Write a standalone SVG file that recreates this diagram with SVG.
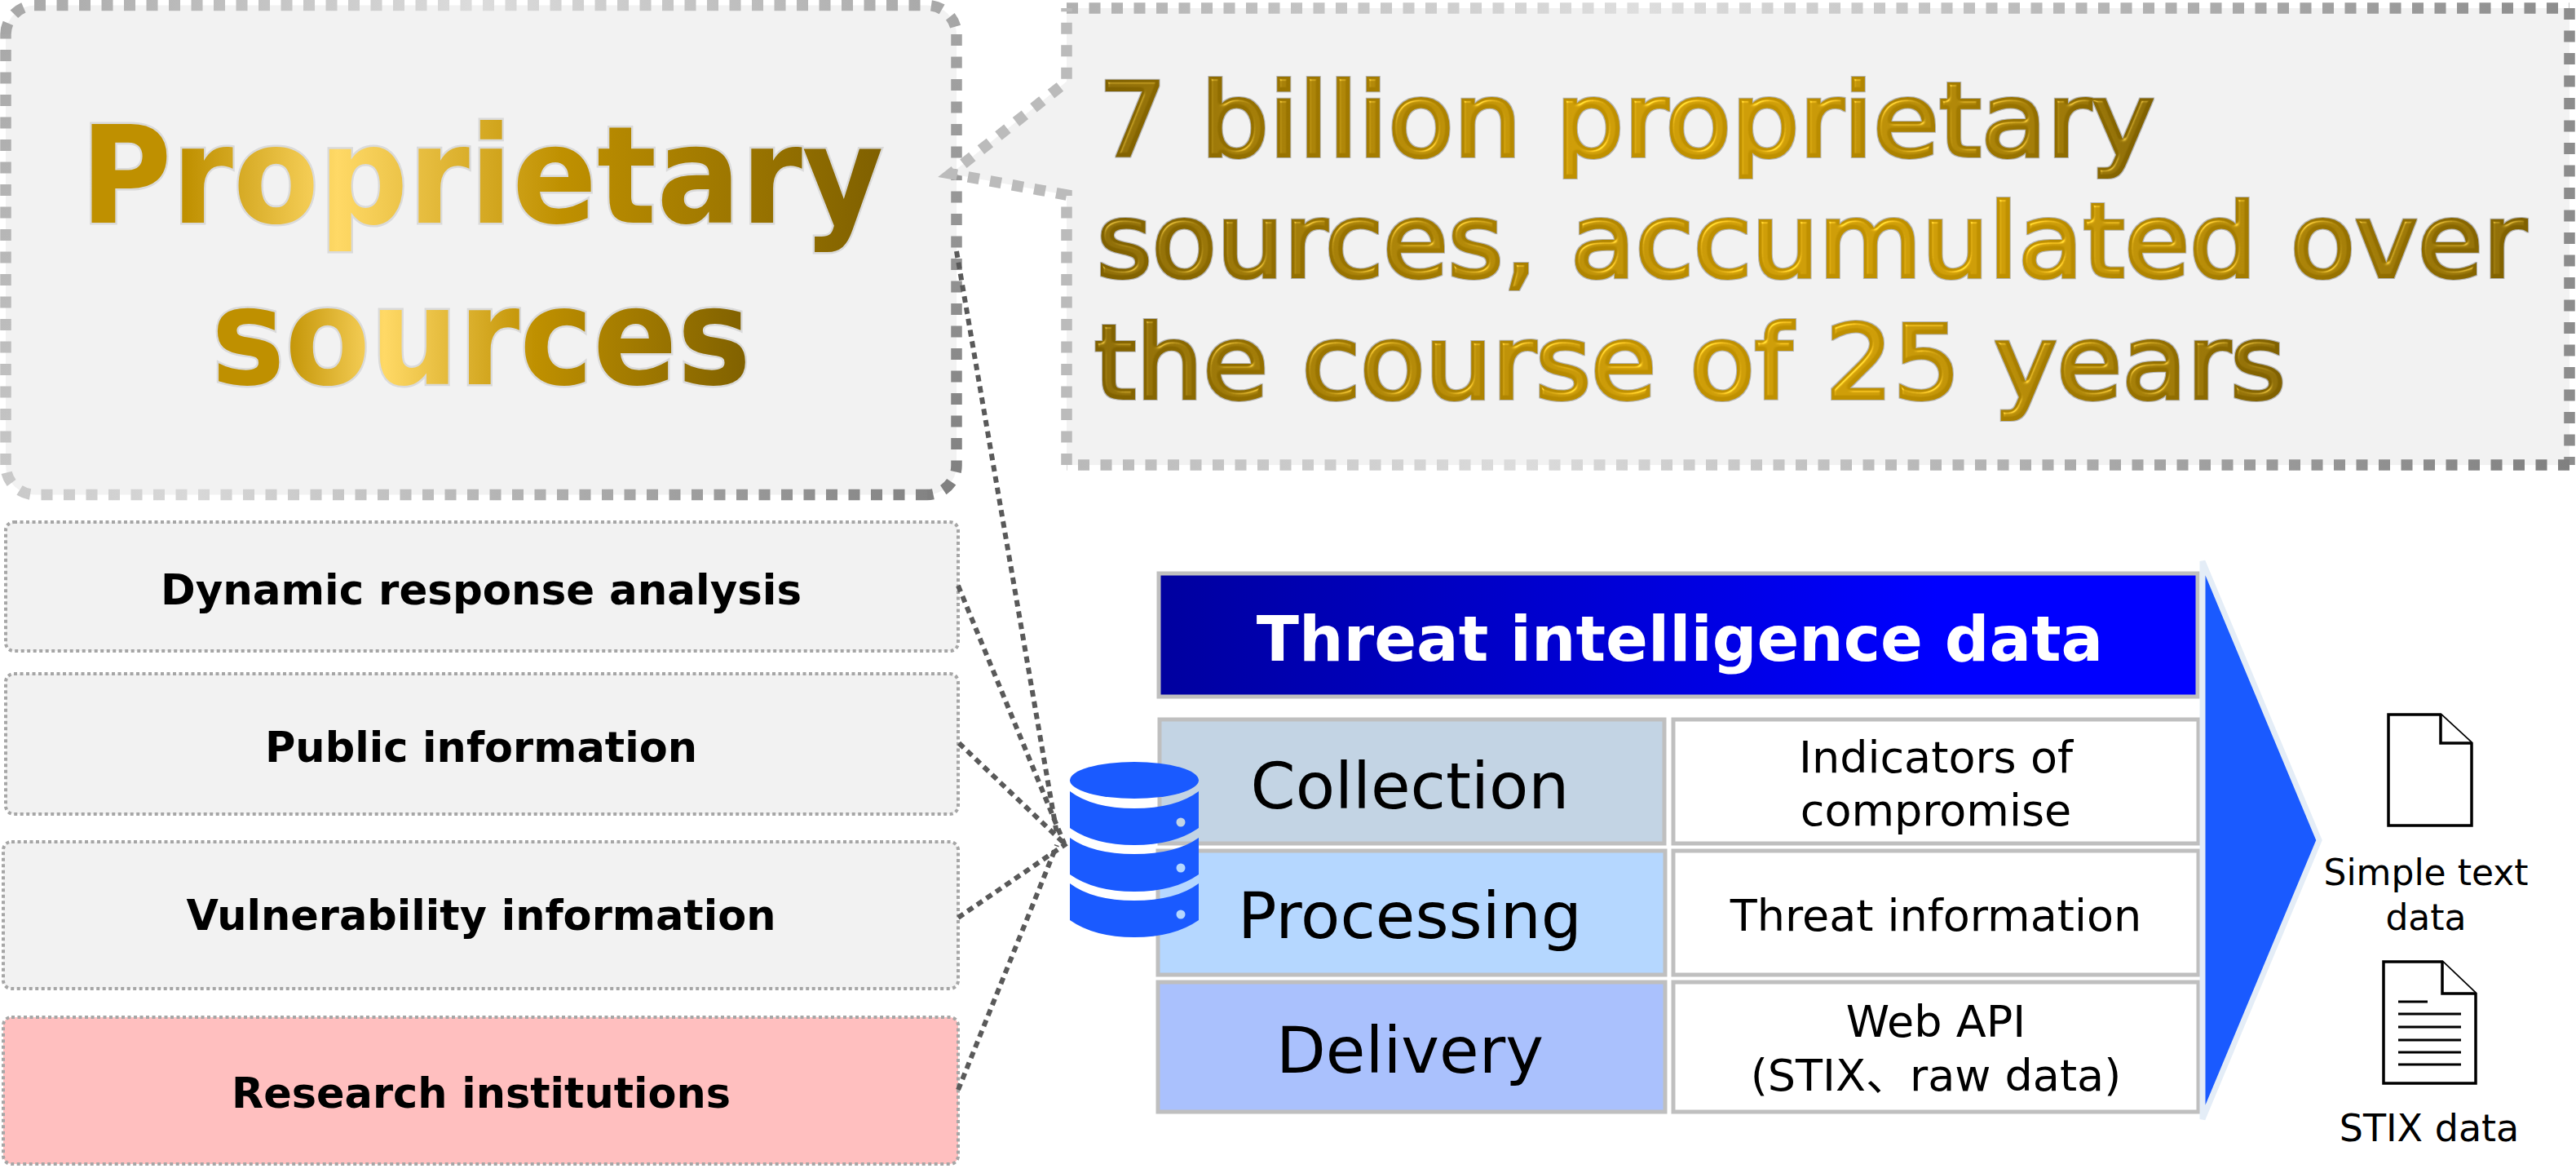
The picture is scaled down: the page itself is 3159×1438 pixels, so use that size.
<svg xmlns="http://www.w3.org/2000/svg" width="3159" height="1438" viewBox="0 0 3159 1438">
<style>
text{font-family:"DejaVu Sans","Noto Sans CJK JP",sans-serif;text-anchor:middle}
.sb{font-size:52px;font-weight:700;fill:#000}
.cat{font-size:79px;fill:#000}
.val{font-size:54px;fill:#000}
.doc{font-size:44px;fill:#000}
.wa{font-size:165px;font-weight:700;stroke:#dadada;stroke-width:5px;paint-order:stroke}
.hl{font-size:124px;text-anchor:start;stroke-width:4px;filter:url(#bevel)}
.dash{fill:none;stroke-width:13.5;stroke-dasharray:14 13.5}
.src{stroke:#a6a6a6;stroke-width:4;stroke-dasharray:4 3.5;rx:10px;ry:10px}
.src-g{fill:#f2f2f2}
.cell{stroke:#bfbfbf;stroke-width:5}
.lnk{fill:none;stroke:#595959;stroke-width:6;stroke-dasharray:8 6}
.db{fill:#1a5aff}
.ic{fill:#fff;stroke:#000;stroke-width:3.5}
.ln{stroke:#000;stroke-width:3}
</style>
<defs>
<linearGradient id="gold"><stop offset="0" stop-color="#bf9000"/><stop offset=".13" stop-color="#bf9000"/><stop offset=".32" stop-color="#ffd966"/><stop offset=".6" stop-color="#bf9000"/><stop offset="1" stop-color="#7f6000"/></linearGradient>
<linearGradient id="hlg"><stop offset="0" stop-color="#7f6000"/><stop offset=".45" stop-color="#bf9000"/><stop offset=".65" stop-color="#bf9000"/><stop offset="1" stop-color="#7f6000"/></linearGradient>
<linearGradient id="hdr"><stop offset="0" stop-color="#00009f"/><stop offset=".75" stop-color="#0000ff"/></linearGradient>
<linearGradient id="t1" gradientUnits="userSpaceOnUse" x1="0" y1="0" x2="1173" y2="0"><stop offset="0" stop-color="#a6a6a6"/><stop offset=".5" stop-color="#dcdcdc"/><stop offset="1" stop-color="#a6a6a6"/></linearGradient>
<linearGradient id="r1" gradientUnits="userSpaceOnUse" x1="0" y1="0" x2="0" y2="606"><stop offset="0" stop-color="#a6a6a6"/><stop offset="1" stop-color="#808080"/></linearGradient>
<linearGradient id="b1" gradientUnits="userSpaceOnUse" x1="0" y1="0" x2="1173" y2="0"><stop offset="0" stop-color="#c8c8c8"/><stop offset=".2" stop-color="#d8d8d8"/><stop offset="1" stop-color="#808080"/></linearGradient>
<linearGradient id="l1" gradientUnits="userSpaceOnUse" x1="0" y1="0" x2="0" y2="606"><stop offset="0" stop-color="#a6a6a6"/><stop offset="1" stop-color="#c8c8c8"/></linearGradient>
<linearGradient id="t2" gradientUnits="userSpaceOnUse" x1="1308" y1="0" x2="3151" y2="0"><stop offset="0" stop-color="#b0b0b0"/><stop offset=".38" stop-color="#dedede"/><stop offset="1" stop-color="#8c8c8c"/></linearGradient>
<linearGradient id="b2" gradientUnits="userSpaceOnUse" x1="1308" y1="0" x2="3151" y2="0"><stop offset="0" stop-color="#b8b8b8"/><stop offset=".3" stop-color="#dcdcdc"/><stop offset="1" stop-color="#808080"/></linearGradient>
<filter id="bevel" x="-3%" y="-15%" width="106%" height="130%" color-interpolation-filters="sRGB">
<feMorphology in="SourceAlpha" operator="dilate" radius="1.2" result="d"/>
<feFlood flood-color="#b5b5b5"/><feComposite in2="d" operator="in" result="edge"/>
<feGaussianBlur in="SourceAlpha" stdDeviation="2.2" result="b"/>
<feSpecularLighting in="b" surfaceScale="4" specularConstant=".4" specularExponent="30" lighting-color="#ffe890" result="s"><feDistantLight azimuth="235" elevation="50"/></feSpecularLighting>
<feComposite in="s" in2="SourceAlpha" operator="in" result="s2"/>
<feComposite in="SourceGraphic" in2="s2" operator="arithmetic" k1="0" k2="1" k3="1" k4="0" result="lit"/>
<feMerge><feMergeNode in="edge"/><feMergeNode in="lit"/></feMerge>
</filter>
</defs>
<rect width="3159" height="1438" fill="#fff"/>

<g id="proprietary">
<rect x="7" y="6.5" width="1166" height="600" rx="36" fill="#f2f2f2"/>
<path class="dash" stroke="url(#t1)" d="M7,42A36,36 0 0 1 42,6.5H1137A36,36 0 0 1 1173,42"/>
<path class="dash" stroke="url(#r1)" d="M1173,42V570A36,36 0 0 1 1137,606.5"/>
<path class="dash" stroke="url(#b1)" d="M1137,606.5H43A36,36 0 0 1 7,570"/>
<path class="dash" stroke="url(#l1)" d="M7,570V42"/>
<text class="wa" x="591" y="273" fill="url(#gold)" textLength="985" lengthAdjust="spacingAndGlyphs">Proprietary</text>
<text class="wa" x="590" y="471" fill="url(#gold)" textLength="662" lengthAdjust="spacingAndGlyphs">sources</text>
</g>

<g id="callout">
<path d="M1308,10H3151V570H1308V239L1166,213L1308,100Z" fill="#f2f2f2"/>
<path class="dash" stroke="url(#t2)" d="M1308,10H3151"/>
<path class="dash" stroke="#8c8c8c" d="M3151,10V570"/>
<path class="dash" stroke="url(#b2)" d="M3151,570H1308"/>
<path class="dash" stroke="#bbbbbb" d="M1308,570V239L1166,213L1308,100V10"/>
<text class="hl" x="1347" y="191" fill="url(#hlg)" stroke="url(#hlg)" textLength="1295" lengthAdjust="spacingAndGlyphs">7 billion proprietary</text>
<text class="hl" x="1345" y="339" fill="url(#hlg)" stroke="url(#hlg)" textLength="1753" lengthAdjust="spacingAndGlyphs">sources, accumulated over</text>
<text class="hl" x="1342" y="488" fill="url(#hlg)" stroke="url(#hlg)" textLength="1461" lengthAdjust="spacingAndGlyphs">the course of 25 years</text>
</g>

<g id="src-dynamic"><rect class="src src-g" x="7" y="640" width="1168" height="158"/><text class="sb" x="590" y="741" textLength="786" lengthAdjust="spacingAndGlyphs">Dynamic response analysis</text></g>
<g id="src-public"><rect class="src src-g" x="7" y="826" width="1168" height="172"/><text class="sb" x="590" y="934" textLength="530" lengthAdjust="spacingAndGlyphs">Public information</text></g>
<g id="src-vuln"><rect class="src src-g" x="4" y="1032" width="1171" height="180"/><text class="sb" x="590" y="1140" textLength="723" lengthAdjust="spacingAndGlyphs">Vulnerability information</text></g>
<g id="src-research"><rect class="src" fill="#ffbfbf" x="4" y="1247" width="1171" height="180"/><text class="sb" x="590" y="1358" textLength="612" lengthAdjust="spacingAndGlyphs">Research institutions</text></g>

<g id="table">
<rect x="1421" y="703" width="1274" height="151" fill="url(#hdr)" class="cell"/>
<text x="2060" y="810" font-size="76.5" font-weight="700" fill="#fff">Threat intelligence data</text>
<g id="row-collection"><rect class="cell" x="1422" y="882" width="619" height="152" fill="#c3d4e4"/><text class="cat" x="1729" y="991">Collection</text>
<rect class="cell" x="2052" y="882" width="644" height="152" fill="#fff"/><text class="val" x="2374" y="947">Indicators of</text><text class="val" x="2374" y="1012">compromise</text></g>
<g id="row-processing"><rect class="cell" x="1420" y="1043" width="622" height="152" fill="#b5d7ff"/><text class="cat" x="1729" y="1150">Processing</text>
<rect class="cell" x="2052" y="1043" width="644" height="152" fill="#fff"/><text class="val" x="2374" y="1141">Threat information</text></g>
<g id="row-delivery"><rect class="cell" x="1420" y="1204" width="622" height="159" fill="#aac1fd"/><text class="cat" x="1729" y="1315">Delivery</text>
<rect class="cell" x="2052" y="1204" width="644" height="159" fill="#fff"/><text class="val" x="2374" y="1271">Web API</text><text class="val" x="2374" y="1337">(STIX、raw data)</text></g>
</g>

<g id="connectors">
<path class="lnk" d="M1173,308L1296,1022"/>
<path class="lnk" d="M1175,718L1305,1034"/>
<path class="lnk" d="M1176,911L1305,1034"/>
<path class="lnk" d="M1175,1125L1308,1034"/>
<path class="lnk" d="M1175,1336L1296,1036"/>
</g>

<g id="database">
<ellipse class="db" cx="1391" cy="956.5" rx="79" ry="22.5"/>
<path class="db" d="M1312,970Q1340,991 1391,991T1470,970V1015Q1440,1036 1391,1036T1312,1015Z"/>
<path class="db" d="M1312,1027Q1340,1047 1391,1047T1470,1027V1072Q1440,1093 1391,1093T1312,1072Z"/>
<path class="db" d="M1312,1083Q1340,1104 1391,1104T1470,1083V1128Q1440,1149 1391,1149T1312,1128Z"/>
<circle cx="1448" cy="1008" r="5.5" fill="#c3d4e4"/><circle cx="1448" cy="1064" r="5.5" fill="#b5d7ff"/><circle cx="1448" cy="1121" r="5.5" fill="#b5d7ff"/>
</g>

<g id="arrow"><path d="M2701,688L2844,1030L2701,1372Z" fill="#1a5aff" stroke="#e4edf7" stroke-width="7"/></g>

<g id="doc-simple"><path class="ic" d="M2929,876H2993L3031,911V1012H2929Z"/><path class="ic" fill="none" d="M2993,876V911H3031"/>
<text class="doc" x="2975" y="1085">Simple text</text><text class="doc" x="2975" y="1140">data</text></g>
<g id="doc-stix"><path class="ic" d="M2923,1179H2995L3036,1218V1328H2923Z"/><path class="ic" fill="none" d="M2995,1179V1218H3036"/>
<path class="ln" d="M2941,1228H2977M2941,1243H3018M2941,1259H3018M2941,1275H3018M2941,1290H3018M2941,1305H3018"/>
<text class="doc" x="2979" y="1399" style="font-size:46px">STIX data</text></g>
</svg>
